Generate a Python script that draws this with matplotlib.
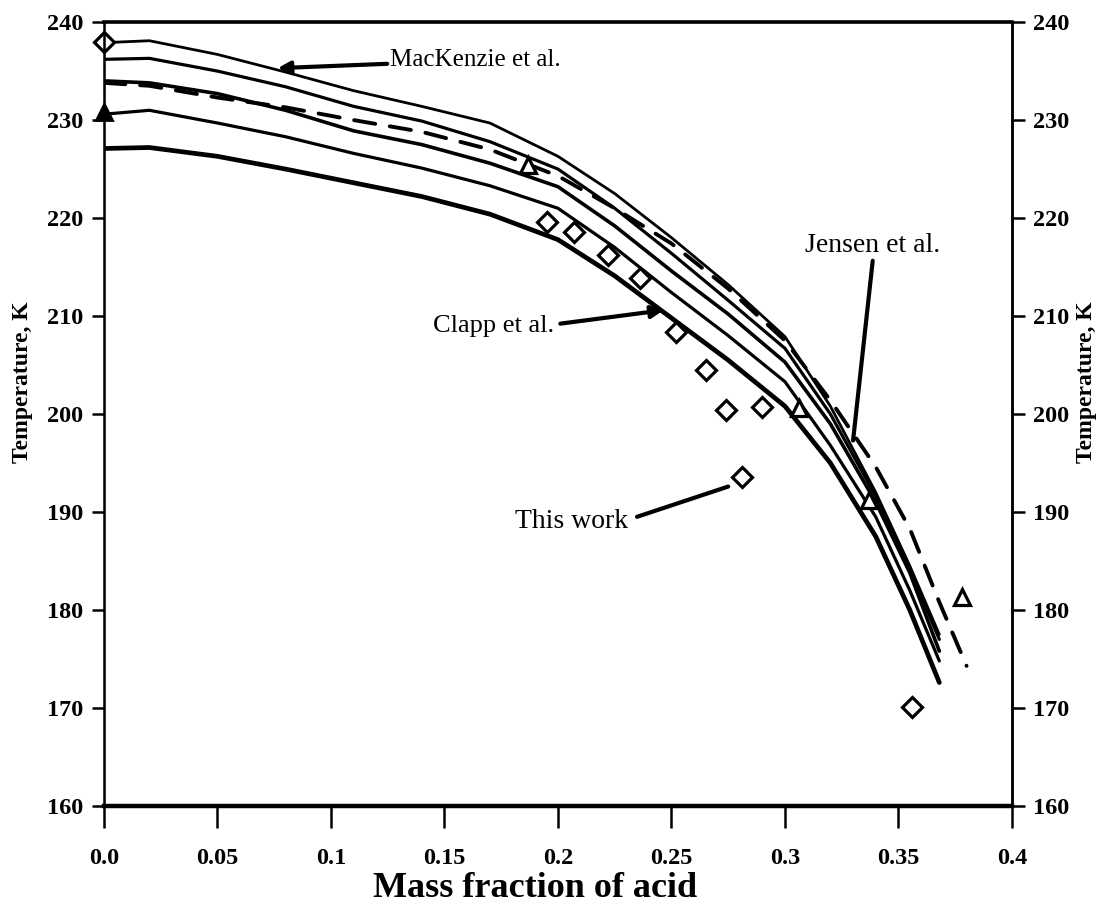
import matplotlib
matplotlib.use("Agg")
import matplotlib.pyplot as plt

# curve readings (mass fraction, temperature K)
x_solid = [0, 0.02, 0.05, 0.08, 0.11, 0.14, 0.17, 0.2, 0.225, 0.25, 0.275, 0.3, 0.32, 0.34, 0.355, 0.368]
t_s1 = [237.9, 238.1, 236.7, 234.9, 233.0, 231.4, 229.7, 226.3, 222.5, 218.0, 213.2, 207.9, 200.8, 192.0, 184.5, 177.5]
t_s2 = [236.2, 236.3, 235.0, 233.4, 231.4, 229.9, 227.8, 225.0, 221.0, 216.4, 211.6, 206.7, 200.0, 191.6, 184.2, 177.0]
t_s3 = [234.0, 233.8, 232.7, 231.0, 228.9, 227.5, 225.6, 223.2, 219.2, 214.6, 210.2, 205.3, 199.0, 191.0, 183.8, 175.8]
t_s4 = [230.6, 231.0, 229.7, 228.3, 226.6, 225.1, 223.3, 221.0, 217.0, 212.4, 208.0, 203.3, 196.8, 189.5, 182.0, 174.8]
t_s5 = [227.1, 227.2, 226.3, 225.0, 223.6, 222.2, 220.4, 217.8, 214.1, 209.8, 205.5, 200.8, 195.0, 187.5, 180.0, 172.6]

x_dash = [0, 0.02, 0.05, 0.08, 0.11, 0.14, 0.17, 0.2, 0.225, 0.25, 0.275, 0.3, 0.32, 0.34, 0.355, 0.368, 0.38]
t_dash = [233.8, 233.5, 232.3, 231.3, 230.0, 228.8, 227.0, 224.3, 221.0, 217.4, 212.8, 207.5, 201.4, 194.6, 188.3, 180.8, 174.3]

# measured points
x_diam = [0.0, 0.195, 0.207, 0.222, 0.236, 0.252, 0.265, 0.274, 0.290, 0.281, 0.356]
t_diam = [238.0, 219.6, 218.6, 216.2, 213.9, 208.4, 204.5, 200.4, 200.7, 193.6, 170.1]
x_tri = [0.187, 0.306, 0.337, 0.378]
t_tri = [225.4, 200.6, 191.2, 181.3]
x_tri0 = [0.0]
t_tri0 = [230.8]

xticks = [0, 0.05, 0.1, 0.15, 0.2, 0.25, 0.3, 0.35, 0.4]
xticklabels = ["0.0", "0.05", "0.1", "0.15", "0.2", "0.25", "0.3", "0.35", "0.4"]
yticks = [160, 170, 180, 190, 200, 210, 220, 230, 240]

plt.rcParams["font.family"] = ["Liberation Serif", "DejaVu Serif"]

fig = plt.figure(figsize=(11.05, 9.21), dpi=100)
ax = fig.add_axes([0.0941, 0.1249, 0.8217, 0.8511])

ax.plot(x_solid, t_s1, color="black", lw=2.0, solid_capstyle="round", solid_joinstyle="round")
ax.plot(x_solid, t_s2, color="black", lw=2.3, solid_capstyle="round", solid_joinstyle="round")
ax.plot(x_solid, t_s3, color="black", lw=2.6, solid_capstyle="round", solid_joinstyle="round")
ax.plot(x_solid, t_s4, color="black", lw=2.3, solid_capstyle="round", solid_joinstyle="round")
ax.plot(x_solid, t_s5, color="black", lw=3.4, solid_capstyle="round", solid_joinstyle="round")
ax.plot(x_dash, t_dash, color="black", lw=2.8, dashes=(5.5, 3.8), dash_capstyle="round")

ax.plot(x_diam, t_diam, ls="none", marker="D", ms=10, mfc="white", mec="black", mew=2.3, clip_on=False)
ax.plot(x_tri, t_tri, ls="none", marker="^", ms=12, mfc="white", mec="black", mew=2.3, clip_on=False)
ax.plot(x_tri0, t_tri0, ls="none", marker="^", ms=12, mfc="black", mec="black", mew=2, clip_on=False)

ax.set_xlim(0, 0.4)
ax.set_ylim(160, 240)
ax.set_xticks(xticks)
ax.set_xticklabels(xticklabels)
ax.set_yticks(yticks)

for s in ["left", "right"]:
    ax.spines[s].set_linewidth(1.8)
ax.spines["top"].set_linewidth(2.6)
ax.spines["bottom"].set_linewidth(3.2)

ax.tick_params(axis="x", direction="out", length=16, width=1.8, pad=14, labelsize=17.5)
ax.tick_params(axis="y", direction="out", length=9, width=1.8, pad=6, labelsize=17.5)
for lab in ax.get_xticklabels() + ax.get_yticklabels():
    lab.set_fontweight("bold")

ax2 = ax.twinx()
ax2.set_ylim(160, 240)
ax2.set_yticks(yticks)
ax2.tick_params(axis="y", direction="out", length=9, width=1.8, pad=6, labelsize=17.5)
for lab in ax2.get_yticklabels():
    lab.set_fontweight("bold")
ax2.spines["right"].set_linewidth(1.8)

ax.set_xlabel("Mass fraction of acid", fontsize=26, fontweight="bold")
ax.xaxis.set_label_coords(0.475, -0.084)
ax.set_ylabel("Temperature, K", fontsize=17, fontweight="bold")
ax.yaxis.set_label_coords(-0.078, 0.54)
ax2.set_ylabel("Temperature, K", fontsize=17, fontweight="bold", rotation=90)
ax2.yaxis.set_label_coords(1.071, 0.54)

arrow = dict(arrowstyle="-|>", color="black", lw=3, mutation_scale=18, shrinkA=0, shrinkB=0)
ax.annotate("MacKenzie et al.", xy=(0.0765, 235.3), xytext=(0.126, 236.1),
            fontsize=18, va="center", ha="left", arrowprops=arrow)
ax.annotate("Jensen et al.", xy=(0.330, 197.3), xytext=(0.309, 217.2),
            fontsize=20, va="center", ha="left",
            arrowprops=dict(arrowstyle="-", color="black", lw=3, shrinkA=0, shrinkB=0,
                            relpos=(0.5, 0)))
ax.annotate("Clapp et al.", xy=(0.2466, 210.6), xytext=(0.145, 209.0),
            fontsize=19, va="center", ha="left",
            arrowprops=dict(arrow, relpos=(1.05, 0.6)))
ax.annotate("This work", xy=(0.275, 192.6), xytext=(0.181, 189.0),
            fontsize=20, va="center", ha="left",
            arrowprops=dict(arrowstyle="-", color="black", lw=3, shrinkA=0, shrinkB=0,
                            relpos=(1.08, 0.7)))

fig.savefig("out.png", dpi=100)
